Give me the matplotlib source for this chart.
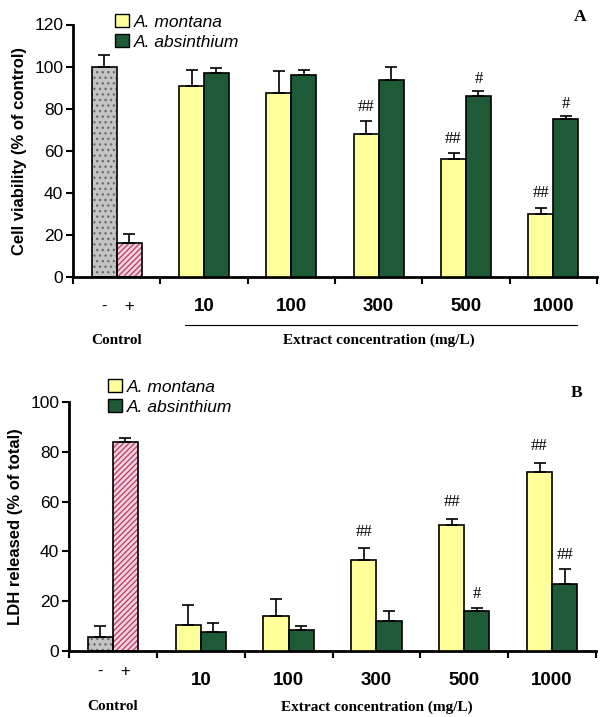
import matplotlib
matplotlib.use("Agg")
import matplotlib.pyplot as plt
from matplotlib.patches import Patch
import numpy as np

# ---------------- data ----------------
groups = ["10", "100", "300", "500", "1000"]
ctrl_labels = ["-", "+"]

# Panel A: cell viability
a_ctrl = [100, 16]
a_ctrl_err = [5.5, 4.5]
a_mont = [91, 87.5, 68, 56, 30]
a_mont_err = [7.5, 10.5, 6, 3, 3]
a_abs = [97, 96, 93.5, 86, 75]
a_abs_err = [2.5, 2.5, 6.5, 2.5, 1.5]
a_mont_sig = ["", "", "##", "##", "##"]
a_abs_sig = ["", "", "", "#", "#"]

# Panel B: LDH released
b_ctrl = [5.5, 84]
b_ctrl_err = [4.5, 1.5]
b_mont = [10.3, 14, 36.5, 50.5, 72]
b_mont_err = [8, 6.8, 4.7, 2.5, 3.7]
b_abs = [7.5, 8.5, 12, 16, 27]
b_abs_err = [3.8, 1.5, 4, 1.3, 5.8]
b_mont_sig = ["", "", "##", "##", "##"]
b_abs_sig = ["", "", "", "#", "##"]

legend_labels = ["A. montana", "A. absinthium"]

YELLOW = "#ffff99"
GREEN = "#1f5a37"
GRAY = "#c4c4c4"
PINK = "#f6d3df"
PINK_H = "#b8466f"

W = 0.286
OFF = 0.143

fig = plt.figure(figsize=(6.0, 7.17), dpi=100)
SANS = "Liberation Sans"
SERIF = "Liberation Serif"


def hbar(ax, x, h, face, hatch, hcolor):
    ax.bar([x], [h], width=W, color=face, hatch=hatch, edgecolor=hcolor, linewidth=0, zorder=2)
    ax.bar([x], [h], width=W, fill=False, edgecolor="black", linewidth=1.2, zorder=3)


def panel(ax, ctrl, ctrl_err, mont, mont_err, absv, abs_err, msig, asig, ymax, ystep,
          ylabel, lab_y_ctrl, lab_y_grp, lab_y_bottom, sig_dy, underline):
    ctrl_x = [0 - OFF, 0 + OFF]
    hbar(ax, ctrl_x[0], ctrl[0], GRAY, "...", "#6e6e6e")
    hbar(ax, ctrl_x[1], ctrl[1], PINK, "//////", PINK_H)
    ax.errorbar(ctrl_x, ctrl, yerr=[np.zeros(2), ctrl_err], fmt="none", ecolor="black",
                elinewidth=1.2, capsize=4, capthick=1.2, zorder=4)
    gx = np.arange(1, len(groups) + 1)
    ax.bar(gx - OFF, mont, width=W, color=YELLOW, edgecolor="black", linewidth=1.2, zorder=3)
    ax.bar(gx + OFF, absv, width=W, color=GREEN, edgecolor="black", linewidth=1.2, zorder=3)
    ax.errorbar(gx - OFF, mont, yerr=[np.zeros(len(gx)), mont_err], fmt="none", ecolor="black",
                elinewidth=1.2, capsize=4, capthick=1.2, zorder=4)
    ax.errorbar(gx + OFF, absv, yerr=[np.zeros(len(gx)), abs_err], fmt="none", ecolor="black",
                elinewidth=1.2, capsize=4, capthick=1.2, zorder=4)
    for i in range(len(groups)):
        if msig[i]:
            ax.text(gx[i] - OFF, mont[i] + mont_err[i] + sig_dy + 1.0, msig[i], ha="center",
                    va="bottom", fontsize=12, family=SERIF)
        if asig[i]:
            ax.text(gx[i] + OFF, absv[i] + abs_err[i] + sig_dy, asig[i], ha="center", va="bottom",
                    fontsize=12, family=SERIF)

    ax.set_xlim(-0.5, len(groups) + 0.5)
    ax.set_ylim(0, ymax)
    ax.set_yticks(np.arange(0, ymax + 1, ystep))
    ax.set_xticks(np.arange(-0.5, len(groups) + 0.6, 1))
    ax.set_xticklabels([])
    ax.tick_params(axis="y", direction="out", length=5, width=1.5, labelsize=12.5, pad=2)
    ax.tick_params(axis="x", direction="out", length=5, width=1.5)
    for lab in ax.get_yticklabels():
        lab.set_family(SANS)
    for s in ["top", "right"]:
        ax.spines[s].set_visible(False)
    for s in ["left", "bottom"]:
        ax.spines[s].set_linewidth(2)
    ax.set_ylabel(ylabel, fontsize=12, fontweight="bold", family=SANS, labelpad=5)

    tr = ax.get_xaxis_transform()
    for x, t in zip(ctrl_x, ctrl_labels):
        ax.text(x, lab_y_ctrl, t, transform=tr, ha="center", va="center", fontsize=12, family=SANS)
    for x, t in zip(gx, groups):
        ax.text(x, lab_y_grp, t, transform=tr, ha="center", va="center", fontsize=13.5,
                fontweight="bold", family=SANS)
    ax.text(0, lab_y_bottom, "Control", transform=tr, ha="center", va="center", fontsize=11,
            fontweight="bold", family=SERIF)
    ax.text(3.0, lab_y_bottom, "Extract concentration (mg/L)", transform=tr, ha="center",
            va="center", fontsize=11, fontweight="bold", family=SERIF)
    if underline is not None:
        ax.plot([0.78, 5.27], [underline, underline], transform=tr, color="black", lw=0.8,
                clip_on=False)
    return ax


axA = fig.add_axes([73 / 600, 1 - 277 / 717, 524 / 600, 252.5 / 717])
panel(axA, a_ctrl, a_ctrl_err, a_mont, a_mont_err, a_abs, a_abs_err, a_mont_sig, a_abs_sig,
      120, 20, "Cell viability (% of control)", -0.115, -0.115, -0.25, 2.0, -0.19)

axB = fig.add_axes([69 / 600, 1 - 650.7 / 717, 527 / 600, 248.4 / 717])
panel(axB, b_ctrl, b_ctrl_err, b_mont, b_mont_err, b_abs, b_abs_err, b_mont_sig, b_abs_sig,
      100, 20, "LDH released (% of total)", -0.085, -0.118, -0.226, 2.5, None)

fig.text(580 / 600, 1 - 17 / 717, "A", ha="center", va="center", fontsize=12.5,
         fontweight="bold", family=SERIF)
fig.text(577 / 600, 1 - 393 / 717, "B", ha="center", va="center", fontsize=12.5,
         fontweight="bold", family=SERIF)

handles = [Patch(facecolor=YELLOW, edgecolor="black", linewidth=1),
           Patch(facecolor=GREEN, edgecolor="black", linewidth=1)]
for (lx, ly) in [(115 / 600, 1 - 14 / 717), (108 / 600, 1 - 379 / 717)]:
    fig.legend(handles, legend_labels, loc="upper left", bbox_to_anchor=(lx, ly),
               frameon=False, borderpad=0, borderaxespad=0, handlelength=0.8, handleheight=0.8,
               handletextpad=0.3, labelspacing=0.25,
               prop={"family": SANS, "style": "italic", "size": 12.5})

fig.savefig("out.png", dpi=100)
